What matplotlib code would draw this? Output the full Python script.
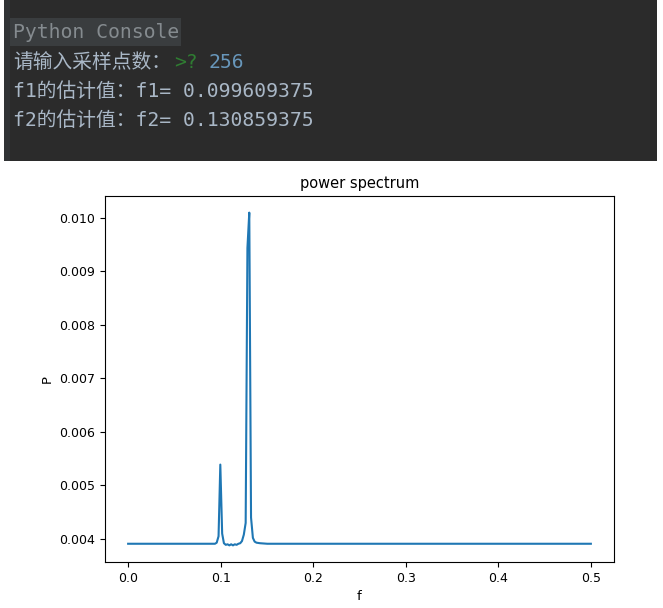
import matplotlib
matplotlib.use("Agg")
import matplotlib.pyplot as plt
from matplotlib.patches import Rectangle

# console output shown above the chart
console_title = "Python Console"
prompt_text = "请输入采样点数："
prompt_mark = ">?"
prompt_input = "256"
result_lines = ["f1的估计值：f1= 0.099609375", "f2的估计值：f2= 0.130859375"]

# power spectrum (breakpoints)
freq = [0.0, 0.0938, 0.0957, 0.0977, 0.0996, 0.1016, 0.1035, 0.1055, 0.1074,
        0.1094, 0.1113, 0.1133, 0.1152, 0.1172, 0.1191, 0.1211, 0.1230, 0.1250,
        0.1270, 0.1289, 0.1309, 0.1328, 0.1348, 0.1367, 0.1387, 0.1426, 0.1504, 0.5]
power = [0.00391, 0.00391, 0.00393, 0.00405, 0.00539, 0.00410, 0.00392, 0.00389, 0.00390,
         0.00388, 0.00390, 0.00388, 0.00390, 0.00389, 0.00391, 0.00392, 0.00396, 0.00408,
         0.00430, 0.00944, 0.01010, 0.00440, 0.00402, 0.00395, 0.00393, 0.00392, 0.00391, 0.00391]

W, H = 663, 608
fig = plt.figure(figsize=(W / 100, H / 100), dpi=100)

def px(x, y):
    return x / W, 1 - y / H

# dark console panel
fig.add_artist(Rectangle(px(4, 161), 653 / W, 161 / H, transform=fig.transFigure,
                         facecolor="#2b2b2b", edgecolor="none"))
fig.add_artist(Rectangle(px(4, 161), 6 / W, 161 / H, transform=fig.transFigure,
                         facecolor="#313335", edgecolor="none"))
fig.add_artist(Rectangle(px(10, 46), 171 / W, 28 / H, transform=fig.transFigure,
                         facecolor="#3a3d3f", edgecolor="none"))

mono = ["DejaVu Sans Mono", "Noto Sans CJK SC"]
fs = 14.2
fig.text(*px(13, 33), console_title, color="#858b8f", fontsize=fs, family=mono, va="center")
fig.text(*px(13, 62), prompt_text, color="#a9b7c6", fontsize=fs, family=mono, va="center")
fig.text(*px(174, 62), prompt_mark, color="#2f7d32", fontsize=fs, family=mono, va="center")
fig.text(*px(209, 62), prompt_input, color="#6897bb", fontsize=fs, family=mono, va="center")
for i, line in enumerate(result_lines):
    fig.text(*px(13, 91 + 29 * i), line, color="#a9b7c6", fontsize=fs, family=mono, va="center")

# chart
ax = fig.add_axes([105 / W, 46 / H, 509 / W, 366 / H])
ax.plot(freq, power, color="#1f77b4", linewidth=1.5)
ax.set_title("power spectrum", fontsize=10.5)
ax.set_xlabel("f", fontsize=9.5)
ax.set_ylabel("P", fontsize=9.5)
ax.tick_params(labelsize=9)

fig.savefig("out.png", dpi=100)
